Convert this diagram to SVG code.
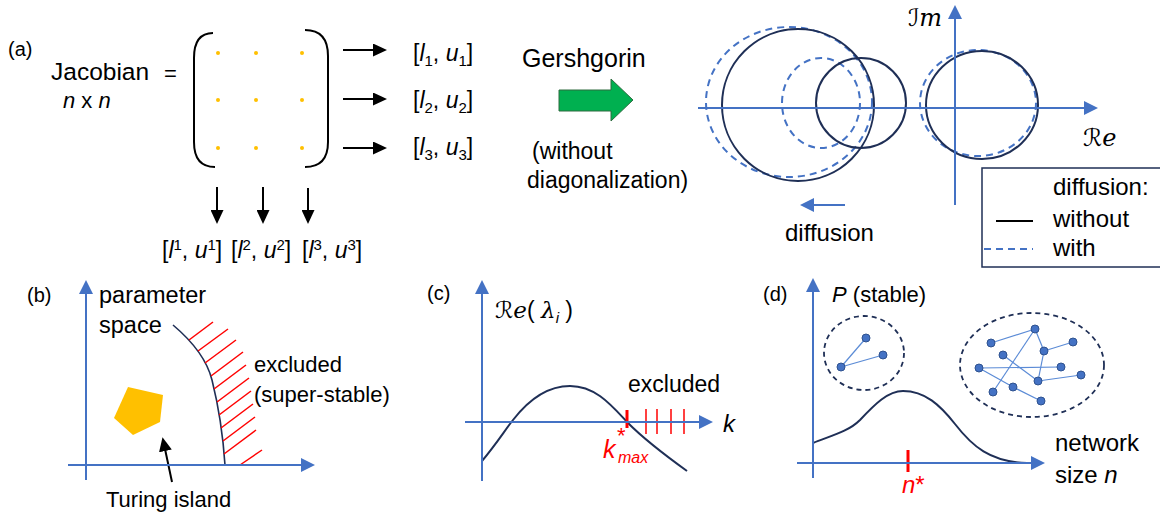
<svg xmlns="http://www.w3.org/2000/svg" width="1160" height="518" viewBox="0 0 1160 518">
<defs>
<style>
text{font-family:"Liberation Sans",Arial,sans-serif;fill:#000}
.ax{stroke:#4472C4;stroke-width:2;fill:none}
.navy{stroke:#1F2F56;stroke-width:2;fill:none}
.dash{stroke:#4472C4;stroke-width:2;fill:none;stroke-dasharray:7 5}
.blk{stroke:#000;stroke-width:2;fill:none}
.red{stroke:#FF0000;stroke-width:1.5}
.edge{stroke:#5B8BD6;stroke-width:1.2}
.node{fill:#4472C4;stroke:#2F528F;stroke-width:1}
.dot{fill:#FFC000}
.it{font-style:italic}
.scr{font-family:"DejaVu Serif","DejaVu Sans",serif}
.rt{fill:#FF0000}
</style>
<marker id="ab" markerUnits="userSpaceOnUse" markerWidth="14" markerHeight="14" refX="2" refY="7" orient="auto"><path d="M0,0 L14,7 L0,14 z" fill="#4472C4"/></marker>
<marker id="ak" markerUnits="userSpaceOnUse" markerWidth="14" markerHeight="13" refX="2" refY="6.5" orient="auto"><path d="M0,0 L14,6.5 L0,13 z" fill="#000"/></marker>
</defs>

<!-- Panel (a) -->
<g id="label-a"><text x="8" y="56" font-size="20">(a)</text></g>
<g id="jacobian">
<text x="51" y="80" font-size="24.5">Jacobian</text>
<text x="164" y="81" font-size="22">=</text>
<text x="63" y="108" font-size="22"><tspan class="it">n</tspan> x <tspan class="it">n</tspan></text>
</g>
<g id="matrix">
<path class="blk" stroke-width="2.5" d="M213,33 Q194,33 194,58 L194,142 Q194,167 215,167"/>
<path class="blk" stroke-width="2.5" d="M305,30 Q328,30 328,56 L328,142 Q328,167 305,167"/>
<circle class="dot" cx="218" cy="53" r="2"/><circle class="dot" cx="256" cy="53" r="2"/><circle class="dot" cx="302" cy="53" r="2"/>
<circle class="dot" cx="218" cy="100" r="2"/><circle class="dot" cx="256" cy="100" r="2"/><circle class="dot" cx="302" cy="100" r="2"/>
<circle class="dot" cx="218" cy="148" r="2"/><circle class="dot" cx="256" cy="148" r="2"/><circle class="dot" cx="302" cy="148" r="2"/>
</g>
<g id="row-labels" font-size="23">
<text x="413" y="61">[<tspan class="it">l</tspan><tspan font-size="15" dy="5">1</tspan><tspan dy="-5">, </tspan><tspan class="it">u</tspan><tspan font-size="15" dy="5">1</tspan><tspan dy="-5">]</tspan></text>
<text x="413" y="108">[<tspan class="it">l</tspan><tspan font-size="15" dy="5">2</tspan><tspan dy="-5">, </tspan><tspan class="it">u</tspan><tspan font-size="15" dy="5">2</tspan><tspan dy="-5">]</tspan></text>
<text x="413" y="155">[<tspan class="it">l</tspan><tspan font-size="15" dy="5">3</tspan><tspan dy="-5">, </tspan><tspan class="it">u</tspan><tspan font-size="15" dy="5">3</tspan><tspan dy="-5">]</tspan></text>
</g>
<g id="col-labels" font-size="23">
<text x="162" y="258">[<tspan class="it">l</tspan><tspan font-size="15" dy="-8">1</tspan><tspan dy="8">, </tspan><tspan class="it">u</tspan><tspan font-size="15" dy="-8">1</tspan><tspan dy="8">]</tspan></text>
<text x="231" y="258">[<tspan class="it">l</tspan><tspan font-size="15" dy="-8">2</tspan><tspan dy="8">, </tspan><tspan class="it">u</tspan><tspan font-size="15" dy="-8">2</tspan><tspan dy="8">]</tspan></text>
<text x="302" y="258">[<tspan class="it">l</tspan><tspan font-size="15" dy="-8">3</tspan><tspan dy="8">, </tspan><tspan class="it">u</tspan><tspan font-size="15" dy="-8">3</tspan><tspan dy="8">]</tspan></text>
</g>
<g id="gershgorin">
<text x="522" y="67" font-size="25">Gershgorin</text>
<polygon points="559,90 611,90 611,79 633,100 611,121 611,111 559,111" fill="#00B050" stroke="#2E6B3F" stroke-width="1"/>
<text x="532" y="159" font-size="23">(without</text>
<text x="527" y="188" font-size="23">diagonalization)</text>
</g>
<g id="complex-plane">
<ellipse class="dash" cx="789" cy="102" rx="83" ry="75"/>
<ellipse class="dash" cx="821" cy="103" rx="39" ry="45"/>
<ellipse class="dash" cx="978" cy="103" rx="58" ry="53"/>
<circle class="navy" cx="798" cy="105" r="76"/>
<circle class="navy" cx="861" cy="103" r="45"/>
<ellipse class="navy" cx="982" cy="105" rx="56" ry="54"/>
<text x="908" y="26" font-size="24"><tspan class="scr">ℐ</tspan><tspan class="scr it">m</tspan></text>
<text x="1083" y="146" font-size="24"><tspan class="scr">ℛ</tspan><tspan class="scr it">e</tspan></text>
<text x="785" y="241" font-size="24">diffusion</text>
</g>
<g id="legend">
<rect x="982" y="168" width="190" height="99" fill="none" stroke="#1F2F56" stroke-width="1.5"/>
<text x="1053" y="195" font-size="24">diffusion:</text>
<line x1="996" y1="221" x2="1033" y2="221" stroke="#000" stroke-width="2"/>
<text x="1053" y="227" font-size="24">without</text>
<line x1="984" y1="249" x2="1033" y2="249" class="dash" stroke-dasharray="8 6"/>
<text x="1053" y="256" font-size="24">with</text>
</g>

<!-- Panel (b) -->
<g id="panel-b">
<text x="27" y="302" font-size="20">(b)</text>
<text x="99" y="303" font-size="23.5">parameter</text>
<text x="99" y="333" font-size="23.5">space</text>
<text x="254" y="372" font-size="22">excluded</text>
<text x="254" y="402" font-size="22">(super-stable)</text>
<text x="106" y="507" font-size="22">Turing island</text>
<polygon points="128,387 163,395 160,422 133,435 114,418" fill="#FFC000"/>
<path d="M173,325 Q205,352 212,380 Q222,420 225,465" stroke="#1F2F56" stroke-width="1.6" fill="none"/>
<g class="red">
<line x1="189" y1="340" x2="213" y2="322"/>
<line x1="198" y1="351" x2="228" y2="329"/>
<line x1="205" y1="363" x2="236" y2="340"/>
<line x1="211" y1="376" x2="243" y2="352"/>
<line x1="214" y1="389" x2="246" y2="365"/>
<line x1="217" y1="402" x2="249" y2="378"/>
<line x1="219" y1="415" x2="251" y2="391"/>
<line x1="221" y1="428" x2="253" y2="404"/>
<line x1="223" y1="441" x2="255" y2="417"/>
<line x1="224" y1="454" x2="256" y2="430"/>
<line x1="240" y1="465" x2="262" y2="450"/>
</g>
</g>

<!-- Panel (c) -->
<g id="panel-c">
<text x="427" y="300" font-size="20">(c)</text>
<text x="495" y="318" font-size="23"><tspan class="scr">ℛ</tspan><tspan class="scr it">e</tspan>( <tspan class="scr it">λ</tspan><tspan class="it" font-size="15" dy="5">i</tspan><tspan dy="-5"> )</tspan></text>
<text x="628" y="392" font-size="23">excluded</text>
<text x="723" y="432" font-size="24" class="it">k</text>
<path d="M482,461 C497,443 505,430 513,420 C530,398 548,386 570,386 C596,386 612,406 628,423 C645,440 662,453 687,471" stroke="#1F2F56" stroke-width="2" fill="none"/>
<line x1="627" y1="410" x2="627" y2="428" stroke="#FF0000" stroke-width="3"/>
<g class="red">
<line x1="646" y1="409" x2="646" y2="434"/>
<line x1="657" y1="409" x2="657" y2="434"/>
<line x1="671" y1="409" x2="671" y2="434"/>
<line x1="684" y1="409" x2="684" y2="434"/>
</g>
<text class="rt"><tspan x="603" y="458" font-size="25" class="it">k</tspan><tspan x="617" y="443" font-size="22">*</tspan><tspan x="618" y="463" font-size="16" class="it">max</tspan></text>
</g>

<!-- Panel (d) -->
<g id="panel-d">
<text x="763" y="301" font-size="20">(d)</text>
<text x="832" y="302" font-size="22"><tspan class="it">P</tspan> (stable)</text>
<text x="1055" y="451" font-size="24">network</text>
<text x="1055" y="483" font-size="24">size <tspan class="it">n</tspan></text>
<path d="M813,443 C830,436 848,432 860,420 C875,404 888,391 903,391 C925,391 940,405 955,424 C972,446 990,462 1027,463" stroke="#1F2F56" stroke-width="2" fill="none"/>
<line x1="908" y1="450" x2="908" y2="472" stroke="#FF0000" stroke-width="3"/>
<text x="902" y="493" font-size="24" class="rt"><tspan class="it">n</tspan>*</text>
</g>
<g id="small-network">
<ellipse cx="864" cy="353" rx="40" ry="37" fill="none" stroke="#1F2F56" stroke-width="1.8" stroke-dasharray="5 4"/>
<line class="edge" x1="841" y1="367" x2="866" y2="338"/>
<line class="edge" x1="841" y1="367" x2="883" y2="355"/>
<circle class="node" cx="866" cy="338" r="4"/>
<circle class="node" cx="883" cy="355" r="4"/>
<circle class="node" cx="841" cy="367" r="4"/>
</g>
<g id="large-network">
<ellipse cx="1032" cy="365" rx="72" ry="52" fill="none" stroke="#1F2F56" stroke-width="1.8" stroke-dasharray="5 4"/>
<line class="edge" x1="991" y1="343" x2="1035" y2="329"/>
<line class="edge" x1="1035" y1="329" x2="1044" y2="351"/>
<line class="edge" x1="1035" y1="329" x2="993" y2="392"/>
<line class="edge" x1="1044" y1="351" x2="1073" y2="342"/>
<line class="edge" x1="1044" y1="351" x2="1038" y2="381"/>
<line class="edge" x1="1003" y1="355" x2="1038" y2="381"/>
<line class="edge" x1="979" y1="368" x2="1061" y2="367"/>
<line class="edge" x1="979" y1="368" x2="1013" y2="387"/>
<line class="edge" x1="1013" y1="387" x2="1041" y2="401"/>
<line class="edge" x1="1038" y1="381" x2="1081" y2="375"/>
<circle class="node" cx="1035" cy="329" r="4"/>
<circle class="node" cx="991" cy="343" r="4"/>
<circle class="node" cx="1044" cy="351" r="4"/>
<circle class="node" cx="1073" cy="342" r="4"/>
<circle class="node" cx="1003" cy="355" r="4"/>
<circle class="node" cx="979" cy="368" r="4"/>
<circle class="node" cx="1061" cy="367" r="4"/>
<circle class="node" cx="1038" cy="381" r="4"/>
<circle class="node" cx="1081" cy="375" r="4"/>
<circle class="node" cx="1013" cy="387" r="4"/>
<circle class="node" cx="993" cy="392" r="4"/>
<circle class="node" cx="1041" cy="401" r="4"/>
</g>

<!-- Connectors: arrows and axes -->
<g id="connectors">
<line class="blk" x1="343" y1="50" x2="375" y2="50" marker-end="url(#ak)"/>
<line class="blk" x1="343" y1="99" x2="375" y2="99" marker-end="url(#ak)"/>
<line class="blk" x1="343" y1="148" x2="375" y2="148" marker-end="url(#ak)"/>
<line class="blk" x1="217" y1="187" x2="217" y2="212" marker-end="url(#ak)"/>
<line class="blk" x1="263" y1="187" x2="263" y2="212" marker-end="url(#ak)"/>
<line class="blk" x1="308" y1="188" x2="308" y2="212" marker-end="url(#ak)"/>
<line class="blk" x1="172" y1="482" x2="165" y2="449" marker-end="url(#ak)"/>
<line class="ax" x1="698" y1="108" x2="1086" y2="108" marker-end="url(#ab)"/>
<line class="ax" x1="955" y1="205" x2="955" y2="17" marker-end="url(#ab)"/>
<line class="ax" x1="845" y1="205" x2="812" y2="205" marker-end="url(#ab)"/>
<line class="ax" x1="86" y1="480" x2="86" y2="292" marker-end="url(#ab)"/>
<line class="ax" x1="68" y1="465" x2="303" y2="465" marker-end="url(#ab)"/>
<line class="ax" x1="482" y1="481" x2="482" y2="292" marker-end="url(#ab)"/>
<line class="ax" x1="465" y1="422" x2="701" y2="422" marker-end="url(#ab)"/>
<line class="ax" x1="813" y1="478" x2="813" y2="290" marker-end="url(#ab)"/>
<line class="ax" x1="797" y1="463" x2="1033" y2="463" marker-end="url(#ab)"/>
</g>
</svg>
